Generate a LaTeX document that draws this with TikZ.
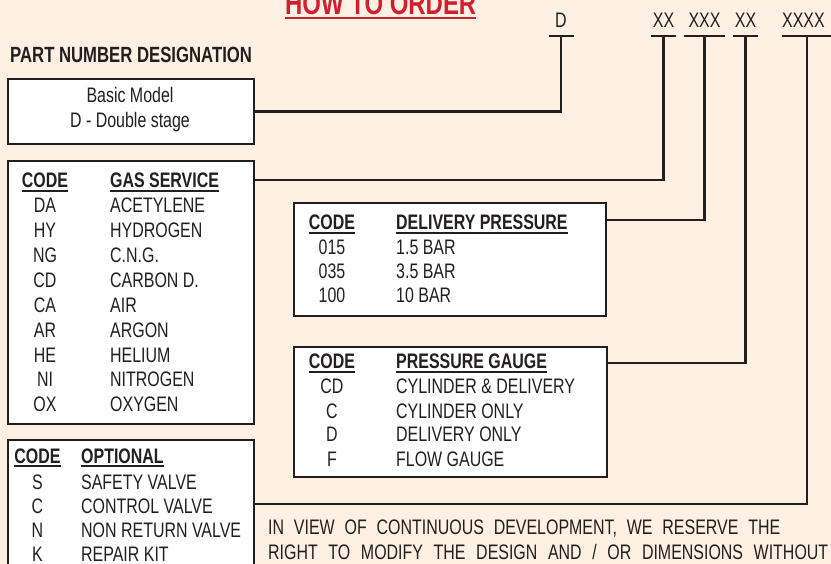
\documentclass[tikz,border=0pt]{standalone}
\usepackage{fontspec}
\setmainfont{Liberation Sans}[FakeStretch=0.76]
\definecolor{bg}{HTML}{FEF0E2}
\definecolor{ink}{HTML}{231F20}
\definecolor{titlered}{HTML}{CF2030}
\newcommand\ulhd[1]{\setbox0\hbox{#1}\rlap{\vrule height -2pt depth 3.6pt width \wd0}\box0}
\begin{document}
\begin{tikzpicture}[x=1pt,y=-1pt,
  box/.style={draw=ink, line width=2.4pt, fill=white, inner sep=0pt, anchor=north west},
  link/.style={draw=ink, line width=2.4pt},
  txt/.style={inner sep=0pt, anchor=base west, text=ink, font=\fontsize{21}{24}\selectfont},
  ctxt/.style={inner sep=0pt, anchor=base, text=ink, font=\fontsize{21}{24}\selectfont},
  hd/.style={font=\fontsize{21}{24}\selectfont\bfseries}]
\useasboundingbox (0,0) rectangle (831,564);
\clip (0,0) rectangle (831,564);
\fill[bg] (0,0) rectangle (831,564);

% title
\node[inner sep=0pt, anchor=base west, text=titlered, font=\fontsize{31.5}{34}\selectfont\bfseries] (title) at (285,15) {\ulhd{HOW TO ORDER}};
\node[txt, font=\fontsize{22}{24}\selectfont\bfseries] (pnd) at (10,63) {PART NUMBER DESIGNATION};

% part number markers
\node[ctxt] (tD) at (561,28) {D};
\node[ctxt] (tA) at (663.5,28) {XX};
\node[ctxt] (tB) at (704.5,28) {XXX};
\node[ctxt] (tC) at (745.5,28) {XX};
\node[txt] (tE) at (782,28) {XXXX};
\coordinate (bD) at (561,36);
\coordinate (bA) at (663.5,36);
\coordinate (bB) at (704.5,36);
\coordinate (bC) at (745.5,36);
\coordinate (bE) at (807,36);
\draw[link] ([xshift=-12.5pt]bD) -- ([xshift=12.5pt]bD);
\draw[link] ([xshift=-12.5pt]bA) -- ([xshift=12.5pt]bA);
\draw[link] ([xshift=-20.5pt]bB) -- ([xshift=20.5pt]bB);
\draw[link] ([xshift=-12.5pt]bC) -- ([xshift=12.5pt]bC);
\draw[link] ([xshift=-25pt]bE) -- ([xshift=25pt]bE);

% boxes
\node[box, minimum width=246pt, minimum height=65pt] (basic) at (7,78) {};
\node[box, minimum width=246pt, minimum height=263pt] (gas) at (7,160) {};
\node[box, minimum width=312pt, minimum height=113pt] (deliv) at (293,202) {};
\node[box, minimum width=313pt, minimum height=130pt] (gauge) at (293,346) {};
\node[box, minimum width=246pt, minimum height=200pt] (opt) at (7,439) {};

% connectors
\draw[link] (basic.east) -| (bD);
\draw[link] ([yshift=-20pt]gas.north east) -| (bA);
\draw[link] ([yshift=-18pt]deliv.north east) -| (bB);
\draw[link] ([yshift=-17pt]gauge.north east) -| (bC);
\draw[link] ([yshift=-65pt]opt.north east) -| (bE);

% basic model text
\node[ctxt] (bm1) at (130,103) {Basic Model};
\node[ctxt] (bm2) at (130,128) {D - Double stage};

% gas service
\node[ctxt, hd] (gh1) at (45,188) {\ulhd{CODE}};
\node[txt, hd] (gh2) at (110,188) {\ulhd{GAS SERVICE}};
\foreach \c/\d [count=\i from 0] in {DA/ACETYLENE,HY/HYDROGEN,NG/C.N.G.,CD/CARBON D.,CA/AIR,AR/ARGON,HE/HELIUM,NI/NITROGEN,OX/OXYGEN}{
  \node[ctxt] (gc\i) at (45,213+24.85*\i) {\c};
  \node[txt] (gd\i) at (110,213+24.85*\i) {\d};
}

% delivery pressure
\node[ctxt, hd] (dh1) at (332,230) {\ulhd{CODE}};
\node[txt, hd] (dh2) at (396,230) {\ulhd{DELIVERY PRESSURE}};
\foreach \c/\d [count=\i from 0] in {015/1.5 BAR,035/3.5 BAR,100/10 BAR}{
  \node[ctxt] (dc\i) at (332,255+24*\i) {\c};
  \node[txt] (dd\i) at (396,255+24*\i) {\d};
}

% pressure gauge
\node[ctxt, hd] (ph1) at (332,369) {\ulhd{CODE}};
\node[txt, hd] (ph2) at (396,369) {\ulhd{PRESSURE GAUGE}};
\foreach \c/\d [count=\i from 0] in {CD/CYLINDER \& DELIVERY,C/CYLINDER ONLY,D/DELIVERY ONLY,F/FLOW GAUGE}{
  \node[ctxt] (pc\i) at (332,394+24*\i) {\c};
  \node[txt] (pd\i) at (396,394+24*\i) {\d};
}

% optional
\node[ctxt, hd] (oh1) at (37.5,463) {\ulhd{CODE}};
\node[txt, hd] (oh2) at (81,463) {\ulhd{OPTIONAL}};
\foreach \c/\d [count=\i from 0] in {S/SAFETY VALVE,C/CONTROL VALVE,N/NON RETURN VALVE,K/REPAIR KIT}{
  \node[ctxt] (oc\i) at (37.5,489+24*\i) {\c};
  \node[txt] (od\i) at (81,489+24*\i) {\d};
}

% footer
\node[txt] (foot1) at (268,534) {\makebox[512pt][s]{IN VIEW OF CONTINUOUS DEVELOPMENT, WE RESERVE THE}};
\node[txt] (foot2) at (268,559) {\makebox[560pt][s]{RIGHT TO MODIFY THE DESIGN AND / OR DIMENSIONS WITHOUT}};
\end{tikzpicture}
\end{document}
